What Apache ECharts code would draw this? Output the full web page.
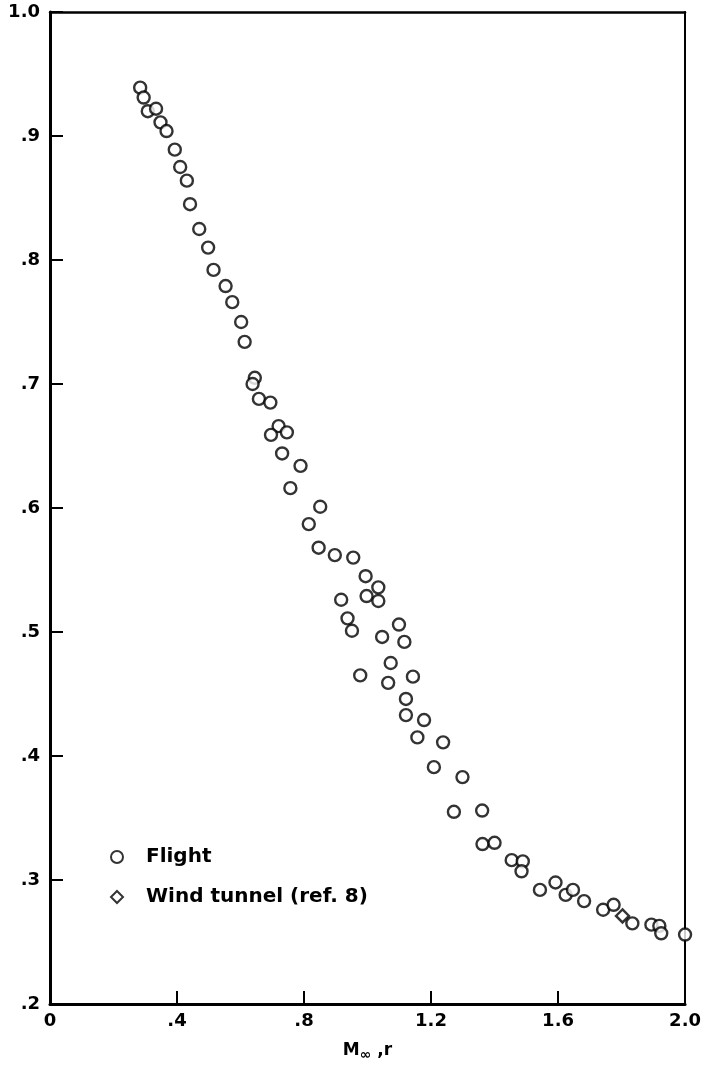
<!DOCTYPE html>
<html>
<head>
<meta charset="utf-8">
<script src="https://cdn.jsdelivr.net/npm/echarts@6/dist/echarts.min.js"></script>
<style>
html,body{margin:0;padding:0;background:#fff;overflow:hidden;}
#chart{width:704px;height:1067px;}
</style>
</head>
<body>
<div id="chart"></div>
<script>
// ---- data ----
const flightX = [0.284,0.295,0.308,0.334,0.348,0.367,0.393,0.410,0.431,0.441,
  0.470,0.498,0.515,0.553,0.574,0.602,0.613,0.645,0.638,0.658,
  0.694,0.720,0.696,0.746,0.731,0.789,0.757,0.851,0.815,0.846,
  0.897,0.955,0.994,1.034,0.997,1.034,0.917,0.937,0.951,1.099,
  1.046,1.116,1.073,0.977,1.065,1.143,1.121,1.121,1.178,1.157,
  1.238,1.209,1.299,1.272,1.361,1.362,1.400,1.454,1.489,1.485,
  1.543,1.592,1.624,1.647,1.682,1.742,1.775,1.834,1.894,1.919,
  1.925,2.000];
const flightY = [0.939,0.931,0.920,0.922,0.911,0.904,0.889,0.875,0.864,0.845,
  0.825,0.810,0.792,0.779,0.766,0.750,0.734,0.705,0.700,0.688,
  0.685,0.666,0.659,0.661,0.644,0.634,0.616,0.601,0.587,0.568,
  0.562,0.560,0.545,0.536,0.529,0.525,0.526,0.511,0.501,0.506,
  0.496,0.492,0.475,0.465,0.459,0.464,0.446,0.433,0.429,0.415,
  0.411,0.391,0.383,0.355,0.356,0.329,0.330,0.316,0.315,0.307,
  0.292,0.298,0.288,0.292,0.283,0.276,0.280,0.265,0.264,0.263,
  0.257,0.256];
const windX = [1.803];
const windY = [0.271];

const xTickLabels = ['0', '.4', '.8', '1.2', '1.6', '2.0'];   // 0 .. 2.0 step .4
const yTickLabels = ['.2', '.3', '.4', '.5', '.6', '.7', '.8', '.9', '1.0']; // .2 .. 1.0 step .1
const seriesNames = ['Flight', 'Wind tunnel (ref. 8)'];

// ---- build ----
const flightData = flightX.map((x, i) => [x, flightY[i]]);
const windData = windX.map((x, i) => [x, windY[i]]);

const FONT = 'DejaVu Sans';
const chart = echarts.init(document.getElementById('chart'), null, {renderer: 'canvas'});

const markerStyle = {color: '#ffffff', borderColor: '#000000', borderWidth: 2.4};

chart.setOption({
  backgroundColor: '#ffffff',
  animation: false,
  grid: {left: 50, right: 15, top: 12, bottom: 58, containLabel: false},
  legend: {
    orient: 'vertical',
    left: 105, top: 842, padding: 5,
    itemWidth: 12, itemHeight: 12, itemGap: 20,
    data: seriesNames,
    textStyle: {fontFamily: FONT, fontWeight: 'bold', fontSize: 20, color: '#000',
      lineHeight: 20, padding: [0, 0, 0, 18]}
  },
  xAxis: [{
    type: 'value', min: 0, max: 2.0, interval: 0.4, position: 'bottom',
    name: '{m|M}{s|∞}{m| ,r}', nameLocation: 'middle', nameGap: 36,
    nameTextStyle: {rich: {
      m: {fontFamily: FONT, fontWeight: 'bold', fontSize: 17, color: '#000'},
      s: {fontFamily: FONT, fontWeight: 'bold', fontSize: 14, color: '#000', padding: [8, 0, 0, 0]}
    }},
    axisLine: {show: true, onZero: false, lineStyle: {color: '#000', width: 3}},
    axisTick: {show: true, inside: true, length: 13, lineStyle: {color: '#000', width: 2}},
    axisLabel: {margin: 8, fontFamily: FONT, fontWeight: 'bold', fontSize: 18, color: '#000',
      formatter: v => xTickLabels[Math.round(v / 0.4)]},
    splitLine: {show: false}
  }, {
    type: 'value', min: 0, max: 2.0, interval: 0.4, position: 'top',
    axisLine: {show: true, onZero: false, lineStyle: {color: '#000', width: 2.5}},
    axisTick: {show: false}, axisLabel: {show: false}, splitLine: {show: false}
  }],
  yAxis: [{
    type: 'value', min: 0.2, max: 1.0, interval: 0.1, position: 'left',
    axisLine: {show: true, onZero: false, lineStyle: {color: '#000', width: 3}},
    axisTick: {show: true, inside: true, length: 13, lineStyle: {color: '#000', width: 2}},
    axisLabel: {margin: 10, fontFamily: FONT, fontWeight: 'bold', fontSize: 18, color: '#000',
      formatter: v => yTickLabels[Math.round((v - 0.2) / 0.1)]},
    splitLine: {show: false}
  }, {
    type: 'value', min: 0.2, max: 1.0, interval: 0.1, position: 'right',
    axisLine: {show: true, onZero: false, lineStyle: {color: '#000', width: 2}},
    axisTick: {show: false}, axisLabel: {show: false}, splitLine: {show: false}
  }],
  series: [{
    name: seriesNames[0], type: 'scatter', xAxisIndex: 0, yAxisIndex: 0,
    symbol: 'circle', symbolSize: 12, clip: false,
    itemStyle: markerStyle, data: flightData, z: 3
  }, {
    name: seriesNames[1], type: 'scatter', xAxisIndex: 0, yAxisIndex: 0,
    symbol: 'diamond', symbolSize: 13, clip: false,
    itemStyle: markerStyle, data: windData, z: 4
  }]
});
</script>
</body>
</html>
